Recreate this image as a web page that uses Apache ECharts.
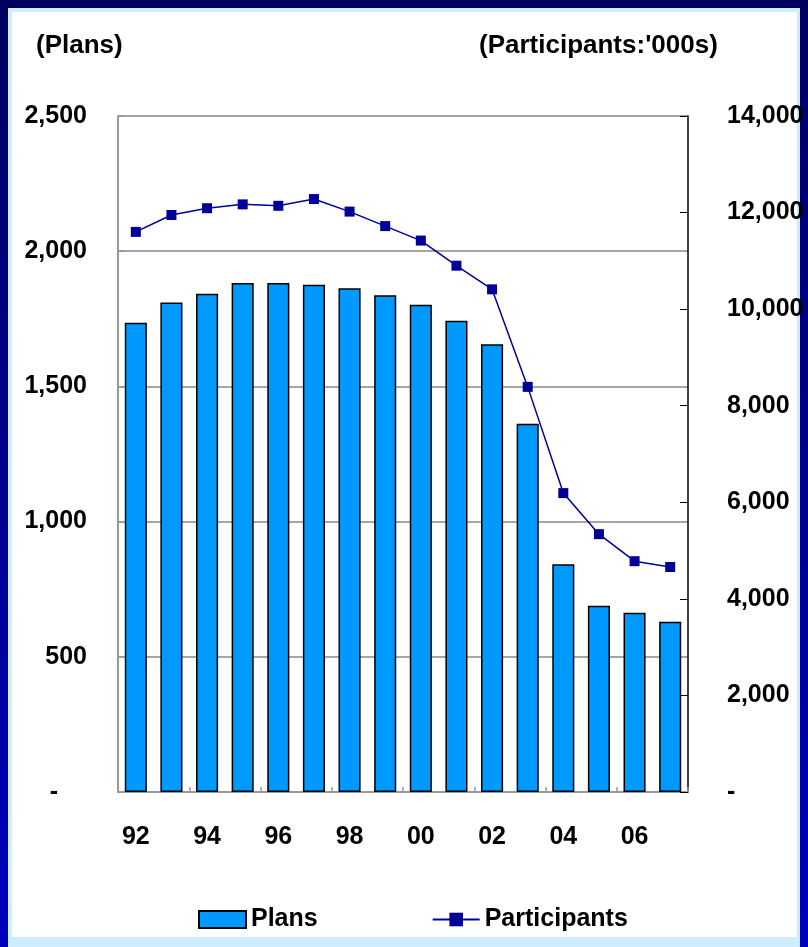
<!DOCTYPE html>
<html>
<head>
<meta charset="utf-8">
<script src="https://cdn.jsdelivr.net/npm/echarts@6/dist/echarts.min.js"></script>
<style>
  html, body { margin: 0; padding: 0; background: #000080; }
  #chart { width: 808px; height: 947px; }
</style>
</head>
<body>
<div id="chart"></div>
<script>
// Years (two-digit) and the two series plotted against them
const years = ['92','93','94','95','96','97','98','99','00','01','02','03','04','05','06','07'];
const plans = [1735, 1810, 1843, 1882, 1882, 1876, 1863, 1837, 1802, 1743, 1656, 1362, 842, 689, 663, 630];
const participants = [11600, 11950, 12090, 12170, 12140, 12280, 12020, 11720, 11420, 10900, 10410, 8390, 6190, 5340, 4780, 4660];

// Axis ranges and tick steps
const plansMax = 2500, plansStep = 500;
const partMax = 14000, partStep = 2000;

const FONT = '"Liberation Sans", Arial, sans-serif';
const LABEL_SIZE = 25;
const fmt = v => v === 0 ? '-' : v.toLocaleString('en-US');

const chart = echarts.init(document.getElementById('chart'), null, { renderer: 'canvas' });

chart.setOption({
  animation: false,
  backgroundColor: 'transparent',
  textStyle: { fontFamily: FONT },
  graphic: [
    // dark blue frame with light cyan inner border and white panel
    { type: 'rect', z: -10, shape: { x: 0, y: 0, width: 808, height: 947 },
      style: { fill: new echarts.graphic.LinearGradient(0, 0, 0, 1, [
        { offset: 0, color: '#000060' }, { offset: 1, color: '#0000c0' }]) } },
    { type: 'rect', z: -9, shape: { x: 8, y: 8, width: 792, height: 939 },
      style: { fill: '#cdeeff' } },
    { type: 'rect', z: -8, shape: { x: 12, y: 12, width: 785, height: 925 },
      style: { fill: '#ffffff' } },
    { type: 'text', left: 36, top: 33,
      style: { text: '(Plans)', font: 'bold 26px ' + FONT, fill: '#000' } },
    { type: 'text', left: 479, top: 33,
      style: { text: "(Participants:'000s)", font: 'bold 26px ' + FONT, fill: '#000' } }
  ],
  grid: { left: 118, right: 120, top: 116, bottom: 155, containLabel: false },
  legend: {
    left: 193, top: 902,
    itemWidth: 47, itemHeight: 17, itemGap: 114,
    textStyle: { fontSize: LABEL_SIZE, fontWeight: 'bold', color: '#000', fontFamily: FONT },
    data: [
      { name: 'Plans', icon: 'rect' },
      { name: 'Participants' }
    ]
  },
  xAxis: {
    type: 'category',
    data: years,
    boundaryGap: true,
    axisLine: { lineStyle: { color: '#999', width: 2 } },
    axisTick: { show: true, inside: true, interval: 1, length: 5, lineStyle: { color: '#999', width: 1.5 } },
    axisLabel: { interval: 1, margin: 33, fontSize: LABEL_SIZE, fontWeight: 'bold', color: '#000', fontFamily: FONT }
  },
  yAxis: [
    {
      type: 'value', min: 0, max: plansMax, interval: plansStep,
      axisLine: { show: true, lineStyle: { color: '#999', width: 2 } },
      axisTick: { show: true, inside: true, length: 6, lineStyle: { color: '#999', width: 1.5 } },
      splitLine: { show: true, lineStyle: { color: '#a6a6a6', width: 2 } },
      axisLabel: {
        margin: 31, fontSize: LABEL_SIZE, fontWeight: 'bold', color: '#000', fontFamily: FONT,
        formatter: v => v === 0 ? '{z|-}' : fmt(v),
        rich: { z: { fontSize: LABEL_SIZE, fontWeight: 'bold', padding: [0, 29, 0, 0], fontFamily: FONT } }
      }
    },
    {
      type: 'value', min: 0, max: partMax, interval: partStep,
      position: 'right',
      axisLine: { show: true, lineStyle: { color: '#000', width: 1.5 } },
      axisTick: { show: true, inside: true, length: 8, lineStyle: { color: '#000', width: 1 } },
      splitLine: { show: false },
      axisLabel: {
        margin: 39, fontSize: LABEL_SIZE, fontWeight: 'bold', color: '#000', fontFamily: FONT,
        formatter: v => fmt(v)
      }
    }
  ],
  series: [
    {
      name: 'Plans', type: 'bar', yAxisIndex: 0,
      data: plans,
      barCategoryGap: '38%',
      itemStyle: { color: '#0099ff', borderColor: '#000', borderWidth: 1.5 }
    },
    {
      name: 'Participants', type: 'line', yAxisIndex: 1,
      data: participants,
      symbol: 'rect', symbolSize: 10,
      lineStyle: { color: '#000099', width: 1.5 },
      itemStyle: { color: '#000099' }
    }
  ]
});
</script>
</body>
</html>
